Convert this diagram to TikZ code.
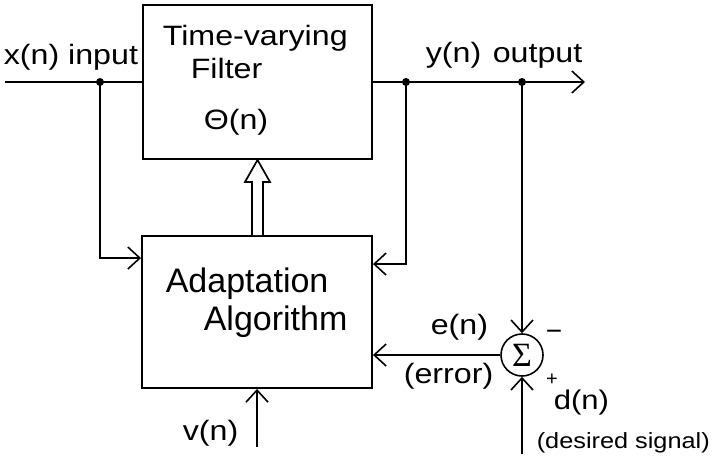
\documentclass[tikz,border=0pt]{standalone}
\usepackage{fontspec}
\setmainfont{Liberation Sans}
\newfontfamily\lblf{Liberation Sans}[FakeStretch=1.15]
\newfontfamily\sigf{Liberation Serif}
\usetikzlibrary{arrows.meta,calc}
\begin{document}
\begin{tikzpicture}[x=1pt,y=-1pt,line width=1.6pt,
  box/.style={draw,line width=1.9pt,inner sep=0pt},
  arr/.style={-{Straight Barb[length=12pt,width=22pt]}},
  dot/.style={circle,fill,inner sep=0pt,minimum size=8pt},
  lbl/.style={font=\lblf\fontsize{28}{30}\selectfont,inner sep=0pt,anchor=base west},
  big/.style={font=\fontsize{34}{36}\selectfont,inner sep=0pt,anchor=base west},
  sgn/.style={font=\fontsize{28}{28}\selectfont,inner sep=0pt}]
\useasboundingbox (0,0) rectangle (717,457);
% blocks
\node[box,minimum width=229pt,minimum height=154pt] (filt) at (257.5,82) {};
\node[box,minimum width=230pt,minimum height=152pt] (adapt) at (257,312) {};
\node[circle,draw,line width=1.6pt,minimum size=42pt,inner sep=0pt,
      font=\sigf\fontsize{34}{34}\selectfont] (sum) at (522,355) {Σ};
% junctions and free ends
\coordinate (xin) at (5,82);
\node[dot] (j1) at (100,82) {};
\node[dot] (j2) at (406,82) {};
\node[dot] (j3) at (522,82) {};
\coordinate (yout) at (585,82);
\coordinate (vin) at (257,447);
\coordinate (din) at (522,454);
\coordinate (ain) at ($(adapt.north west)+(0,23)$);
\coordinate (fin) at ($(adapt.north east)+(0,29)$);
% connectors
\draw (xin) -- (filt.west);
\draw[arr] (filt.east) -- (yout);
\draw[arr] (j1.center) |- (ain);
\draw[arr] (j2.center) |- (fin);
\draw[arr] (j3.center) -- (sum.north);
\draw[arr] (sum.west) -- (adapt.east |- sum.west);
\draw[arr] (din) -- (sum.south);
\draw[arr] (vin) -- (vin |- adapt.south);
% hollow parameter arrow
\coordinate (ha) at (adapt.north -| 257.5,0);
\coordinate (hb) at (filt.south -| 257.5,0);
\draw[line width=1.7pt,fill=white,line join=miter]
  ($(ha)+(-5.5,0)$) -- ($(hb)+(-5.5,22)$) -- ($(hb)+(-12.5,22)$) -- (hb)
  -- ($(hb)+(12.5,22)$) -- ($(hb)+(5.5,22)$) -- ($(ha)+(5.5,0)$);
% labels
\node[lbl] (lx) at (3,65) {x(n) input};
\node[lbl] (ltv) at (162,46) {Time-varying};
\node[lbl] (lf) at (190,79) {Filter};
\node[lbl] (lth) at (203,130) {Θ(n)};
\node[lbl] (ly) at (425,63) {y(n)};
\node[lbl] (lo) at (492,63) {output};
\node[big] (la1) at (165,292) {Adaptation};
\node[big] (la2) at (203,330) {Algorithm};
\node[lbl] (le) at (430,334) {e(n)};
\node[lbl] (ler) at (403,383) {(error)};
\node[lbl,font=\lblf\fontsize{27}{30}\selectfont] (ld) at (553,409) {d(n)};
\node[lbl,font=\lblf\fontsize{22}{24}\selectfont] (lds) at (536,448) {(desired signal)};
\node[lbl] (lv) at (182,440) {v(n)};
\node[sgn] (lm) at (554,335) {−};
\node[sgn,font=\fontsize{20}{20}\selectfont] (lp) at (552,380) {+};
\end{tikzpicture}
\end{document}
